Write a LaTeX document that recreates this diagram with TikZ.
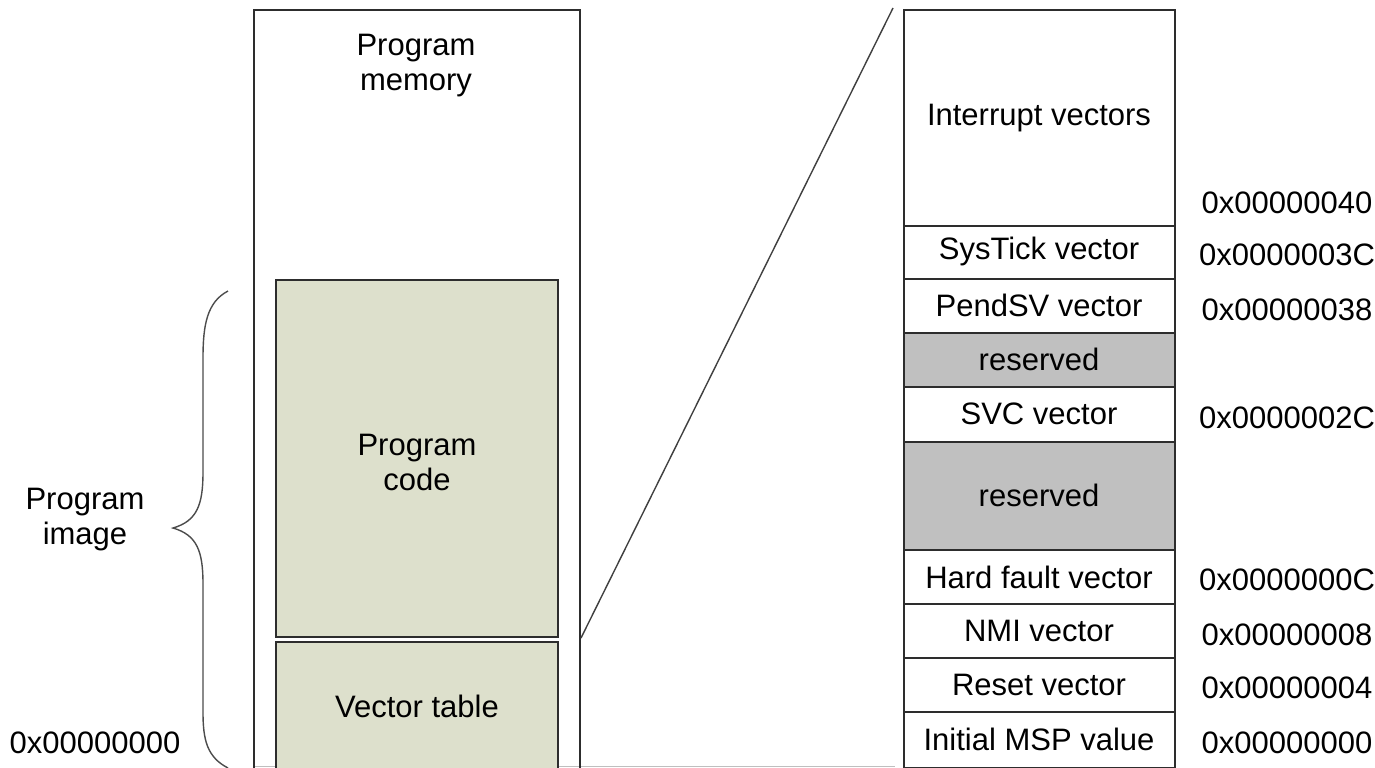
\documentclass[tikz,border=0pt]{standalone}
\usepackage{fontspec}
\setmainfont{Liberation Sans}
\usetikzlibrary{fit}
\definecolor{codegreen}{RGB}{221,224,204}
\definecolor{resgray}{RGB}{192,192,192}
\definecolor{edgec}{RGB}{45,45,45}
\begin{document}
\begin{tikzpicture}[x=0.5pt,y=-0.5pt,
  font=\fontsize{15.5}{17.5}\selectfont,
  box/.style={draw=edgec, line width=1pt, inner sep=0pt},
  codebox/.style={box, fill=codegreen},
  cell/.style={box, fill=white},
  rescell/.style={box, fill=resgray},
  lbl/.style={align=center, inner sep=0pt},
  addr/.style={inner sep=0pt},
  thinline/.style={draw=black!75, line width=0.7pt},
  bracestyle/.style={draw=black!70, line width=0.7pt}]
\useasboundingbox (0,0) rectangle (1375,767);
\clip (0,0) rectangle (1375,767);
\fill[white] (0,0) rectangle (1375,767);
\draw[black!25, line width=0.5pt] (254,766) -- (895,766);
% left memory column
\node[box, fit={(254,10) (580,790)}] (mem) {};
\node[lbl] (memtxt) at (416,66) {Program\\memory};
\node[codebox, fit={(276,280) (558,637)}] (code) {};
\node[lbl] (codetxt) at (417,462) {Program\\code};
\node[codebox, fit={(276,642) (558,770)}] (vt) {};
\node[lbl] (vttxt) at (417,706) {Vector table};
% brace and labels
\draw[bracestyle] (228,291) .. controls (207,302) and (203,325) .. (203,358)
  -- (203,472) .. controls (203,505) and (197,521) .. (173,528)
  .. controls (197,535) and (203,551) .. (203,584)
  -- (203,712) .. controls (203,740) and (207,757) .. (228,768);
\node[lbl] (pimg) at (85,520) {Program\\image};
\node[addr] (a0left) at (95,743) {0x00000000};
% zoom line
\coordinate (dtop) at (893,8);
\draw[thinline] (mem.east |- code.south) -- (dtop);
% vector table detail
\node[cell, fit={(904,10) (1175,226)}] (r1) {};
\node[cell, fit={(904,226) (1175,279)}] (r2) {};
\node[cell, fit={(904,279) (1175,333)}] (r3) {};
\node[rescell, fit={(904,333) (1175,387)}] (r4) {};
\node[cell, fit={(904,387) (1175,442)}] (r5) {};
\node[rescell, fit={(904,442) (1175,550)}] (r6) {};
\node[cell, fit={(904,550) (1175,604)}] (r7) {};
\node[cell, fit={(904,604) (1175,658)}] (r8) {};
\node[cell, fit={(904,658) (1175,712)}] (r9) {};
\node[cell, fit={(904,712) (1175,768)}] (r10) {};
\node[lbl] at (1039,118) {Interrupt vectors};
\node[lbl] at (1039,251) {SysTick vector};
\node[lbl] at (1039,305) {PendSV vector};
\node[lbl] at (1039,359) {reserved};
\node[lbl] at (1039,414) {SVC vector};
\node[lbl] at (1039,495) {reserved};
\node[lbl] at (1039,577) {Hard fault vector};
\node[lbl] at (1039,631) {NMI vector};
\node[lbl] at (1039,685) {Reset vector};
\node[lbl] at (1039,739) {Initial MSP value};
% addresses
\node[addr] (a40) at (1287,203) {0x00000040};
\node[addr] (a3c) at (1287,255) {0x0000003C};
\node[addr] (a38) at (1287,310) {0x00000038};
\node[addr] (a2c) at (1287,418) {0x0000002C};
\node[addr] (a0c) at (1287,580) {0x0000000C};
\node[addr] (a08) at (1287,635) {0x00000008};
\node[addr] (a04) at (1287,688) {0x00000004};
\node[addr] (a00) at (1287,743) {0x00000000};
\end{tikzpicture}
\end{document}
